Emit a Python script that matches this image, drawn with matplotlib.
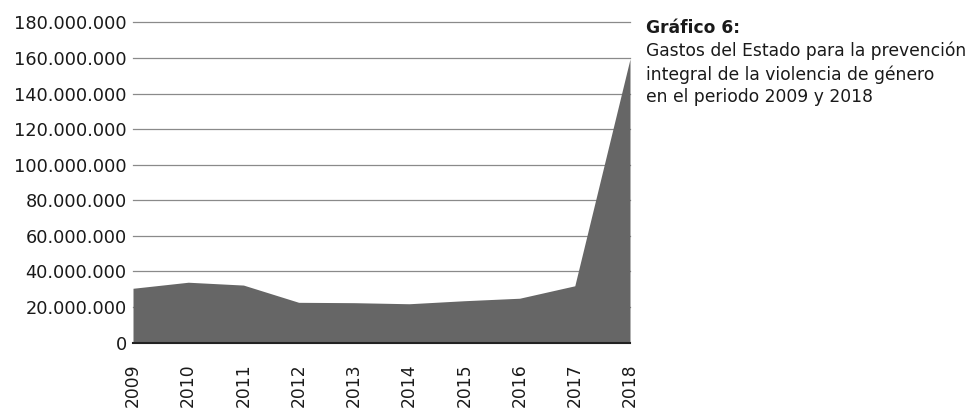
import matplotlib
matplotlib.use("Agg")
import matplotlib.pyplot as plt
from matplotlib.ticker import FuncFormatter

years = [2009, 2010, 2011, 2012, 2013, 2014, 2015, 2016, 2017, 2018]
gastos = [30.5e6, 33.9e6, 32.3e6, 22.6e6, 22.4e6, 21.8e6, 23.5e6, 24.9e6, 31.9e6, 159.5e6]
yticks = [0, 20e6, 40e6, 60e6, 80e6, 100e6, 120e6, 140e6, 160e6, 180e6]
title_bold = "Gráfico 6:"
title_lines = ["Gastos del Estado para la prevención",
               "integral de la violencia de género",
               "en el periodo 2009 y 2018"]

plt.rcParams['font.family'] = ['DejaVu Sans']

fig = plt.figure(figsize=(9.8, 4.08), dpi=100)
W, H = 980, 408
left, right, top, bottom = 133, 630, 22.5, 342.5
ax = fig.add_axes([left / W, 1 - bottom / H, (right - left) / W, (bottom - top) / H])

ax.fill_between(years, gastos, 0, color='#666666', linewidth=0, zorder=2)
ax.set_xlim(years[0], years[-1])
ax.set_ylim(0, 180e6)
ax.set_yticks(yticks)
ax.set_xticks(years)
ax.set_xticklabels([str(y) for y in years], rotation=90, va='top', ha='center')

def fmt(v, pos):
    return f"{int(round(v)):,}".replace(",", ".")
ax.yaxis.set_major_formatter(FuncFormatter(fmt))

for v in yticks[1:]:
    ax.axhline(v, color='#8a8a8a', linewidth=0.9, zorder=1, clip_on=False)

for s in ['left', 'right', 'top']:
    ax.spines[s].set_visible(False)
ax.spines['bottom'].set_color('#222222')
ax.spines['bottom'].set_linewidth(1.5)
ax.spines['bottom'].set_zorder(3)
ax.tick_params(axis='y', length=0, labelsize=12.8, colors='#1a1a1a', pad=4.5)
ax.tick_params(axis='x', length=0, labelsize=12.3, colors='#1a1a1a', pad=15)

fig.text(646 / W, 1 - 33 / H, title_bold, fontsize=12.3, fontweight='bold',
         color='#1a1a1a', va='baseline', ha='left')
for i, line in enumerate(title_lines):
    fig.text(646 / W, 1 - (56.5 + 23 * i) / H, line, fontsize=12.3,
             color='#1a1a1a', va='baseline', ha='left')

fig.savefig("out.png", dpi=100)
